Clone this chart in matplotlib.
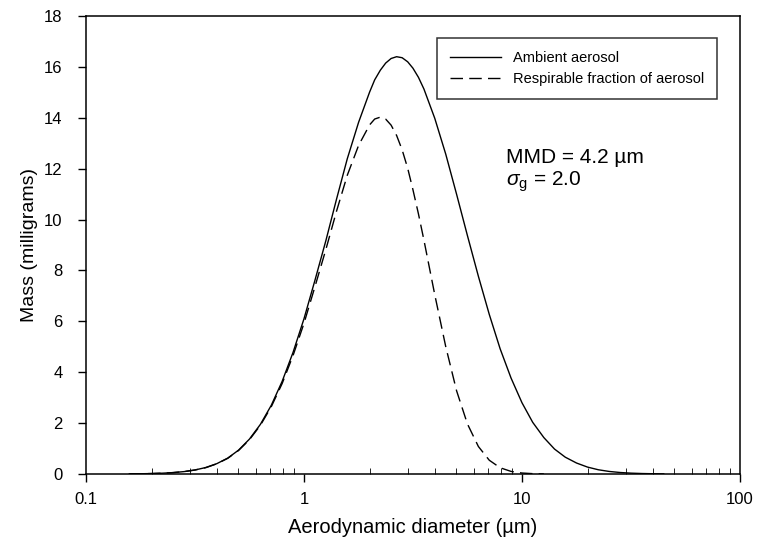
import matplotlib
matplotlib.use("Agg")
import matplotlib.pyplot as plt
from matplotlib.ticker import LogLocator, NullFormatter, FixedLocator

plt.rcParams['font.family'] = ['Liberation Sans', 'DejaVu Sans']
plt.rcParams['mathtext.fontset'] = 'custom'
plt.rcParams['mathtext.rm'] = 'Liberation Sans'
plt.rcParams['mathtext.it'] = 'Liberation Sans:italic'

# aerodynamic diameter (um)
diam = [0.158, 0.178, 0.200, 0.224, 0.251, 0.282, 0.316, 0.355, 0.398, 0.447,
        0.501, 0.562, 0.631, 0.708, 0.794, 0.891, 1.00, 1.12, 1.26, 1.41,
        1.58, 1.78, 2.00, 2.11, 2.24, 2.37, 2.51, 2.66, 2.82, 2.99,
        3.16, 3.35, 3.55, 3.98, 4.47, 5.01, 5.62, 6.31, 7.08, 7.94,
        8.91, 10.0, 11.2, 12.6, 14.1, 15.8, 17.8, 20.0, 22.4, 25.1,
        28.2, 31.6, 35.5, 39.8, 44.7]

# ambient aerosol mass (mg)
ambient = [0.005, 0.009, 0.017, 0.031, 0.054, 0.094, 0.157, 0.255, 0.405, 0.624,
           0.937, 1.37, 1.95, 2.70, 3.64, 4.78, 6.10, 7.58, 9.17, 10.80,
           12.39, 13.82, 15.01, 15.49, 15.87, 16.15, 16.33, 16.40, 16.36, 16.20,
           15.95, 15.59, 15.13, 13.98, 12.57, 11.00, 9.37, 7.77, 6.27, 4.92,
           3.77, 2.80, 2.03, 1.43, 0.98, 0.66, 0.43, 0.27, 0.166, 0.100,
           0.058, 0.033, 0.018, 0.010, 0.005]

# respirable fraction (mg), same diameters up to 12.6 um
respirable = [0.005, 0.009, 0.017, 0.031, 0.054, 0.093, 0.156, 0.252, 0.400, 0.616,
              0.923, 1.347, 1.914, 2.644, 3.555, 4.656, 5.921, 7.330, 8.824, 10.327,
              11.741, 12.913, 13.721, 13.950, 14.025, 13.947, 13.710, 13.305, 12.740, 12.017,
              11.177, 10.223, 9.191, 7.048, 5.004, 3.275, 1.967, 1.080, 0.540, 0.245,
              0.101, 0.038, 0.013, 0.004]

fig = plt.figure(figsize=(7.57, 5.46), dpi=100)
ax = fig.add_axes([0.1136, 0.1319, 0.8639, 0.8388])

ax.plot(diam, ambient, color='black', lw=1.0, label='Ambient aerosol')
ax.plot(diam[:len(respirable)], respirable, color='black', lw=1.0,
        linestyle=(0, (9, 4.5)), label='Respirable fraction of aerosol')

ax.set_xscale('log')
ax.set_xlim(0.1, 100)
ax.set_ylim(0, 18)
ax.set_xticks([0.1, 1, 10, 100])
ax.set_xticklabels(['0.1', '1', '10', '100'])
ax.xaxis.set_minor_locator(LogLocator(base=10, subs=range(2, 10)))
ax.xaxis.set_minor_formatter(NullFormatter())
ax.yaxis.set_major_locator(FixedLocator(range(0, 19, 2)))

ax.tick_params(axis='both', which='major', direction='out', length=6, width=1.0,
               labelsize=12, colors='black')
ax.tick_params(axis='y', which='major', pad=11)
ax.tick_params(axis='x', which='major', pad=7)
ax.tick_params(axis='x', which='minor', direction='in', length=4, width=0.6)
for s in ax.spines.values():
    s.set_linewidth(1.1)

ax.set_xlabel('Aerodynamic diameter (µm)', fontsize=14.5, labelpad=8)
ax.set_ylabel('Mass (milligrams)', fontsize=14, labelpad=4)

ax.text(0.642, 0.692, 'MMD = 4.2 µm', transform=ax.transAxes, fontsize=15,
        va='center', ha='left')
ax.text(0.642, 0.637, r'$\sigma_\mathrm{g}$ = 2.0', transform=ax.transAxes,
        fontsize=15, va='center', ha='left')

leg = ax.legend(loc='upper left', bbox_to_anchor=(0.537, 0.952), fontsize=10.5,
                frameon=True, fancybox=False, handlelength=3.45, handletextpad=0.85,
                borderpad=0.9, labelspacing=0.45, borderaxespad=0)
leg.get_frame().set_edgecolor('black')
leg.get_frame().set_linewidth(1.1)

fig.savefig('out.png', dpi=100)
